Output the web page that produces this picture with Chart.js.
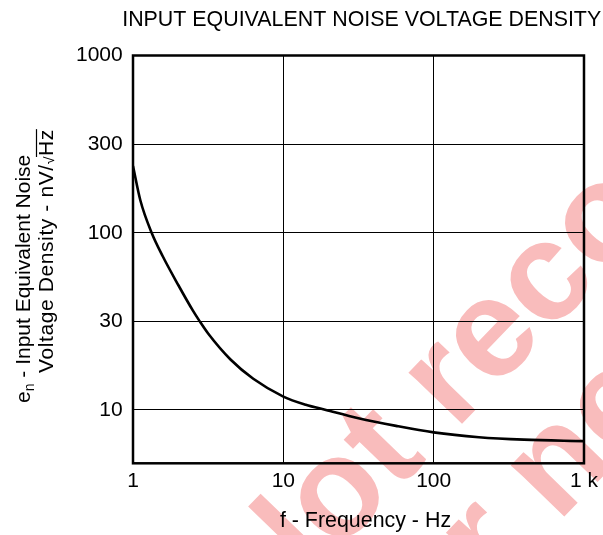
<!DOCTYPE html>
<html>
<head>
<meta charset="utf-8">
<script src="https://cdn.jsdelivr.net/npm/chart.js@4"></script>
<style>
  html, body { margin: 0; padding: 0; background: #fff; }
  #wrap { width: 603px; height: 535px; position: relative; }
</style>
</head>
<body>
<div id="wrap"><canvas id="c" width="603" height="535"></canvas></div>
<script>
// ---- data ----
const freqHz  = [1, 1.12, 1.33, 1.58, 2.0, 2.51, 2.78, 3.16, 4.47, 6.31, 10, 14.1, 19.2, 31.6, 56.2, 100, 200, 398, 1000];
const noiseNv = [238, 152, 100, 73.4, 50.7, 36.2, 31.6, 27.0, 19.2, 15.0, 11.9, 10.7, 10.0, 8.98, 8.13, 7.47, 7.02, 6.80, 6.67];

const xTickValues = [1, 10, 100, 1000];
const xTickLabels = ['1', '10', '100', '1 k'];
// the reference draws its "30" and "300" grid lines at the half-decade positions
const yTickValues = [10, 31.62, 100, 316.2, 1000];
const yTickLabels = ['10', '30', '100', '300', '1000'];

const chartTitle = 'INPUT EQUIVALENT NOISE VOLTAGE DENSITY';
const xTitle = 'f - Frequency - Hz';
const yTitleLine1 = ['e', 'n', ' - Input Equivalent Noise'];
const yTitleLine2 = ['Voltage Density - nV/', '\u221A', 'Hz'];
const watermark = ['Not recommended', 'for new designs'];

const FONT = '"Liberation Sans", Arial, Helvetica, sans-serif';

const decor = {
  id: 'decor',
  beforeDraw(chart) {
    const ctx = chart.ctx;
    ctx.save();
    ctx.fillStyle = '#fff';
    ctx.fillRect(0, 0, chart.width, chart.height);
    // watermark
    const fs = 140;
    ctx.font = 'bold ' + fs + 'px ' + FONT;
    ctx.fillStyle = '#f9bcbc';
    const theta = -46 * Math.PI / 180;
    const wNot = ctx.measureText('Not ').width;
    const wr = ctx.measureText('r').width;
    const wfor = ctx.measureText('for ').width;
    const wn = ctx.measureText('n').width;
    const xh = 0.519 * fs;
    ctx.translate(448, 386);            // centre of the "r" of "recommended"
    ctx.rotate(theta);
    const x0 = -(wNot + wr / 2);
    const x2 = 20 - wfor - wn / 2;
    ctx.textAlign = 'left';
    ctx.textBaseline = 'alphabetic';
    ctx.fillText(watermark[0], x0, xh / 2);
    ctx.fillText(watermark[1], x2, xh / 2 + 138);
    ctx.restore();
  },
  afterDraw(chart) {
    const ctx = chart.ctx;
    const a = chart.chartArea;
    ctx.save();
    // frame
    ctx.strokeStyle = '#000';
    ctx.lineWidth = 2.5;
    ctx.strokeRect(a.left, a.top, a.right - a.left, a.bottom - a.top);
    ctx.fillStyle = '#000';
    // title
    ctx.font = '21.4px ' + FONT;
    ctx.textAlign = 'center';
    ctx.textBaseline = 'alphabetic';
    ctx.fillText(chartTitle, 361.7, 26);
    // x title
    ctx.font = '21.4px ' + FONT;
    ctx.fillText(xTitle, 365.5, 527);
    // y title, line 1
    ctx.textAlign = 'left';
    ctx.save();
    ctx.translate(29.5, 403);
    ctx.rotate(-Math.PI / 2);
    ctx.font = '21px ' + FONT;
    let x = 0;
    ctx.fillText(yTitleLine1[0], x, 0);
    x += ctx.measureText(yTitleLine1[0]).width;
    ctx.font = '14px ' + FONT;
    ctx.fillText(yTitleLine1[1], x, 4);
    x += ctx.measureText(yTitleLine1[1]).width;
    ctx.font = '21px ' + FONT;
    ctx.fillText(yTitleLine1[2], x, 0);
    ctx.restore();
    // y title, line 2
    ctx.save();
    ctx.translate(53, 373);
    ctx.rotate(-Math.PI / 2);
    ctx.letterSpacing = '0.6px';
    ctx.font = '21px ' + FONT;
    x = 0;
    ctx.fillText(yTitleLine2[0], x, 0);
    x += ctx.measureText(yTitleLine2[0]).width;
    ctx.font = '14px ' + FONT;
    ctx.fillText(yTitleLine2[1], x, 1);
    x += ctx.measureText(yTitleLine2[1]).width;
    ctx.font = '21px ' + FONT;
    ctx.fillText(yTitleLine2[2], x, 0);
    const hzW = ctx.measureText(yTitleLine2[2]).width;
    ctx.lineWidth = 1.2;
    ctx.beginPath();
    ctx.moveTo(x - 1, -16.5);
    ctx.lineTo(x + hzW, -16.5);
    ctx.stroke();
    ctx.restore();
    ctx.restore();
  }
};

new Chart(document.getElementById('c'), {
  type: 'line',
  data: {
    datasets: [{
      data: freqHz.map((f, i) => ({ x: f, y: noiseNv[i] })),
      borderColor: '#000',
      borderWidth: 2.6,
      pointRadius: 0,
      cubicInterpolationMode: 'monotone',
      fill: false
    }]
  },
  options: {
    responsive: false,
    animation: false,
    devicePixelRatio: 1,
    layout: { padding: { top: 55.5, right: 17, bottom: 0, left: 0 } },
    plugins: { legend: { display: false }, title: { display: false }, tooltip: { enabled: false } },
    scales: {
      x: {
        type: 'logarithmic',
        min: 1, max: 1000,
        afterBuildTicks: s => { s.ticks = xTickValues.map(v => ({ value: v })); },
        afterFit: s => { s.height = 535 - 463.3; },
        ticks: {
          autoSkip: false, maxRotation: 0, padding: 5,
          color: '#000', font: { family: FONT, size: 21 },
          callback: v => xTickLabels[xTickValues.indexOf(v)]
        },
        grid: { color: '#000', lineWidth: 1, drawTicks: false },
        border: { display: false }
      },
      y: {
        type: 'logarithmic',
        min: 5, max: 1000,
        afterBuildTicks: s => { s.ticks = yTickValues.map(v => ({ value: v })); },
        afterFit: s => { s.width = 133; },
        ticks: {
          autoSkip: false, padding: 10.3,
          color: '#000', font: { family: FONT, size: 21 },
          callback: v => yTickLabels[yTickValues.indexOf(v)]
        },
        grid: { color: '#000', lineWidth: 1, drawTicks: false },
        border: { display: false }
      }
    }
  },
  plugins: [decor]
});
</script>
</body>
</html>
